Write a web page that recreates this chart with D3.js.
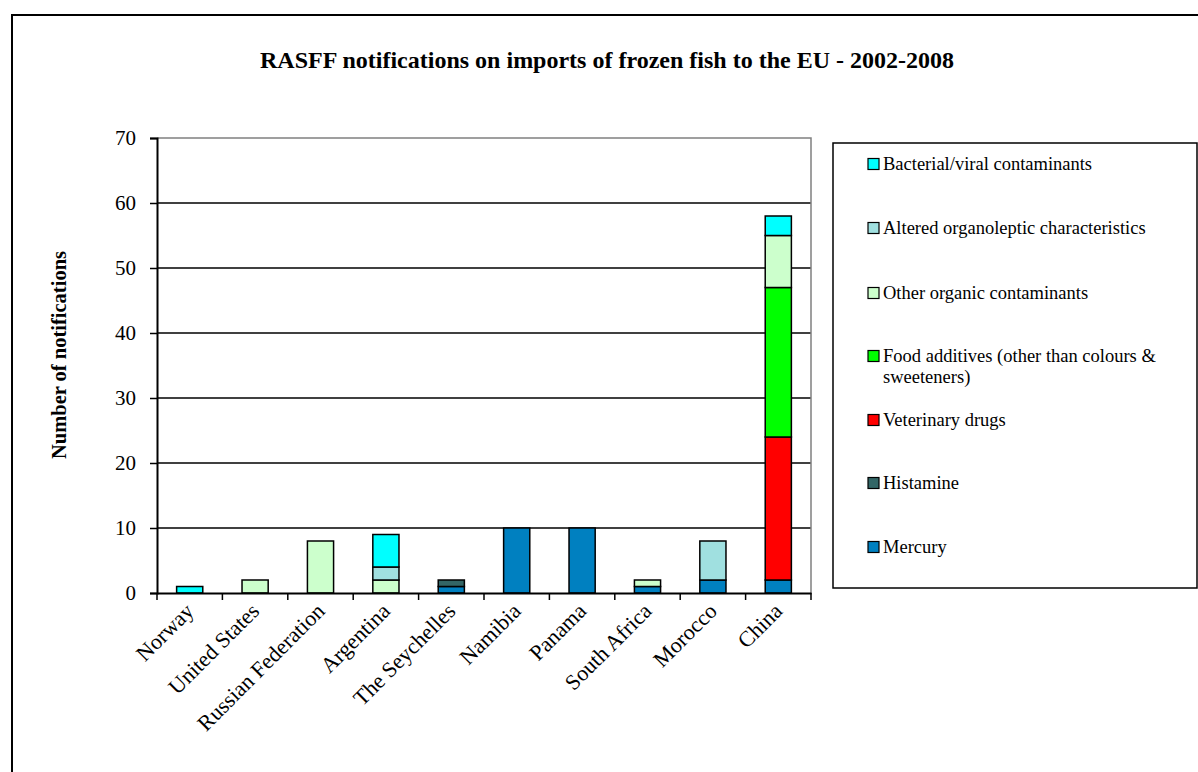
<!DOCTYPE html>
<html>
<head>
<meta charset="utf-8">
<script src="https://cdn.jsdelivr.net/npm/d3@7"></script>
<style>
  body { margin: 0; background: #fff; }
  text { font-family: "Liberation Serif", "Times New Roman", serif; fill: #000; }
</style>
</head>
<body>
<div id="chart"></div>
<script>
// setting up constants
const WIDTH = 1198;
const HEIGHT = 772;
const PLOT = {left: 157, right: 811, top: 138, bottom: 593};

// data
const countries = ["Norway", "United States", "Russian Federation", "Argentina", "The Seychelles",
                   "Namibia", "Panama", "South Africa", "Morocco", "China"];
const mercury      = [0, 0, 0, 0, 1, 10, 10, 1, 2, 2];
const histamine    = [0, 0, 0, 0, 1, 0, 0, 0, 0, 0];
const vetDrugs     = [0, 0, 0, 0, 0, 0, 0, 0, 0, 22];
const foodAdd      = [0, 0, 0, 0, 0, 0, 0, 0, 0, 23];
const otherOrganic = [0, 2, 8, 2, 0, 0, 0, 1, 0, 8];
const altered      = [0, 0, 0, 2, 0, 0, 0, 0, 6, 0];
const bacterial    = [1, 0, 0, 5, 0, 0, 0, 0, 0, 3];
const yTicks = [0, 10, 20, 30, 40, 50, 60, 70];

// stack order bottom -> top
const series = [
  {key: "Mercury", label: ["Mercury"], values: mercury, color: "#0080c0"},
  {key: "Histamine", label: ["Histamine"], values: histamine, color: "#336666"},
  {key: "Veterinary drugs", label: ["Veterinary drugs"], values: vetDrugs, color: "#ff0000"},
  {key: "Food additives", label: ["Food additives (other than colours &", "sweeteners)"], values: foodAdd, color: "#00ff00"},
  {key: "Other organic contaminants", label: ["Other organic contaminants"], values: otherOrganic, color: "#ccffcc"},
  {key: "Altered organoleptic characteristics", label: ["Altered organoleptic characteristics"], values: altered, color: "#a0e0e0"},
  {key: "Bacterial/viral contaminants", label: ["Bacterial/viral contaminants"], values: bacterial, color: "#00ffff"}
];

const rows = countries.map(function(c, i) {
  const r = {country: c};
  series.forEach(function(s) { r[s.key] = s.values[i]; });
  return r;
});

const svg = d3.select("#chart").append("svg")
  .attr("width", WIDTH)
  .attr("height", HEIGHT);

// outer chart frame (runs past right and bottom edges)
svg.append("rect")
  .attr("x", 12).attr("y", 15)
  .attr("width", 1400).attr("height", 1000)
  .attr("fill", "none").attr("stroke", "#000").attr("stroke-width", 2);

// title
svg.append("text")
  .attr("x", 260).attr("y", 68)
  .attr("font-size", 24).attr("font-weight", "bold")
  .text("RASFF notifications on imports of frozen fish to the EU - 2002-2008");

const xScale = d3.scaleBand()
  .domain(countries)
  .range([PLOT.left, PLOT.right])
  .paddingInner(0.6)
  .paddingOuter(0.3);

const yScale = d3.scaleLinear()
  .domain([0, 70])
  .range([PLOT.bottom, PLOT.top]);

// gridlines
svg.append("g")
  .selectAll("line")
  .data(yTicks.filter(function(d) { return d > 0 && d < 70; }))
  .enter().append("line")
    .attr("x1", PLOT.left).attr("x2", PLOT.right)
    .attr("y1", function(d) { return yScale(d); })
    .attr("y2", function(d) { return yScale(d); })
    .attr("stroke", "#000").attr("stroke-width", 1.5);

// plot area border top/right (gray)
svg.append("path")
  .attr("d", "M" + PLOT.left + "," + yScale(70) + "H" + PLOT.right + "V" + PLOT.bottom)
  .attr("fill", "none").attr("stroke", "#808080").attr("stroke-width", 1.5);

// bars
const stacked = d3.stack().keys(series.map(function(s) { return s.key; }))(rows);
svg.append("g")
  .selectAll("g")
  .data(stacked)
  .enter().append("g")
    .attr("fill", function(d, i) { return series[i].color; })
  .selectAll("rect")
  .data(function(d) { return d.filter(function(p) { return p[1] - p[0] > 0; }); })
  .enter().append("rect")
    .attr("x", function(d) { return xScale(d.data.country); })
    .attr("width", xScale.bandwidth())
    .attr("y", function(d) { return yScale(d[1]); })
    .attr("height", function(d) { return yScale(d[0]) - yScale(d[1]); })
    .attr("stroke", "#000").attr("stroke-width", 1.5);

// y axis
const yAxis = svg.append("g")
  .attr("transform", "translate(" + PLOT.left + ",0)")
  .call(d3.axisLeft(yScale).tickValues(yTicks).tickSize(7).tickPadding(14));
yAxis.select(".domain").attr("stroke-width", 2);
yAxis.selectAll(".tick line").attr("stroke-width", 1.5);
yAxis.selectAll(".tick text").attr("font-size", 21);

// x axis: ticks at category boundaries
const xAxis = svg.append("g")
  .attr("transform", "translate(0," + PLOT.bottom + ")")
  .call(d3.axisBottom(xScale).tickSize(0).tickFormat(""));
xAxis.select(".domain").attr("stroke-width", 2);
xAxis.selectAll(".tick").remove();
const step = xScale.step();
xAxis.selectAll(".bound")
  .data(d3.range(countries.length + 1))
  .enter().append("line")
    .attr("x1", function(i) { return PLOT.left + i * step; })
    .attr("x2", function(i) { return PLOT.left + i * step; })
    .attr("y1", 0).attr("y2", 7)
    .attr("stroke", "#000").attr("stroke-width", 1.5);

// rotated category labels
svg.append("g")
  .selectAll("text")
  .data(countries)
  .enter().append("text")
    .attr("transform", function(d) {
      return "translate(" + (xScale(d) + xScale.bandwidth() / 2) + "," + 607 + ") rotate(-45)";
    })
    .attr("text-anchor", "end")
    .attr("dy", "0.35em")
    .attr("font-size", 22)
    .text(function(d) { return d; });

// y axis label
svg.append("text")
  .attr("transform", "translate(59,355) rotate(-90)")
  .attr("text-anchor", "middle")
  .attr("dy", "0.35em")
  .attr("font-size", 20.5).attr("font-weight", "bold")
  .text("Number of notifications");

// legend
svg.append("rect")
  .attr("x", 833).attr("y", 143)
  .attr("width", 364).attr("height", 445)
  .attr("fill", "#fff").attr("stroke", "#000").attr("stroke-width", 1.5);

const legendY = [547, 483, 420, 356, 293, 228, 164];
const legend = svg.append("g")
  .selectAll("g")
  .data(series)
  .enter().append("g")
    .attr("transform", function(d, i) { return "translate(868," + legendY[i] + ")"; });
legend.append("rect")
  .attr("x", 0).attr("y", -5.5)
  .attr("width", 11).attr("height", 11)
  .attr("fill", function(d) { return d.color; })
  .attr("stroke", "#000").attr("stroke-width", 1.2);
legend.append("text")
  .attr("x", 15)
  .attr("font-size", 18.5)
  .selectAll("tspan")
  .data(function(d) { return d.label; })
  .enter().append("tspan")
    .attr("x", 15)
    .attr("y", function(d, j) { return j * 21; })
    .attr("dy", "0.35em")
    .text(function(d) { return d; });
</script>
</body>
</html>
